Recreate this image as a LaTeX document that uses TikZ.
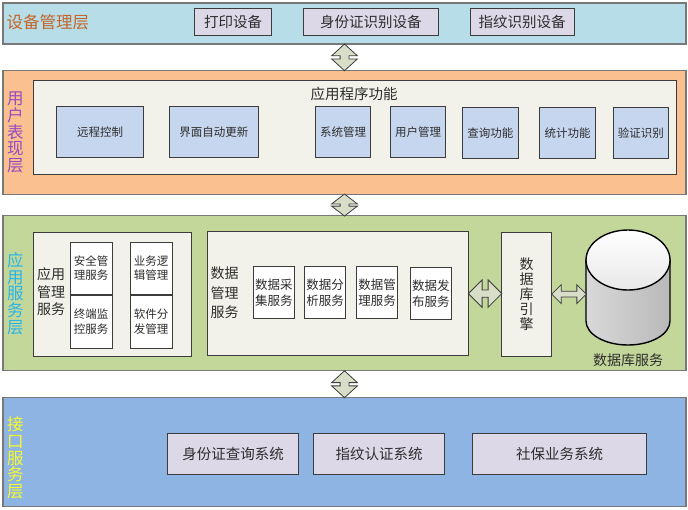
\documentclass[tikz,border=0pt]{standalone}
\usepackage{fontspec}
\setmainfont{Noto Sans CJK SC}
\usepackage{xcolor}
\usepackage{tikz}
\usetikzlibrary{shapes.geometric, shapes.arrows, positioning, calc}
\definecolor{devblue}{RGB}{183,222,232}
\definecolor{devlabel}{RGB}{196,100,40}
\definecolor{userpeach}{RGB}{250,192,144}
\definecolor{userlabel}{RGB}{150,75,195}
\definecolor{appgreen}{RGB}{196,215,155}
\definecolor{applabel}{RGB}{40,180,230}
\definecolor{ifblue}{RGB}{141,180,226}
\definecolor{iflabel}{RGB}{250,250,40}
\definecolor{panelgray}{RGB}{242,242,234}
\definecolor{funcblue}{RGB}{198,214,238}
\definecolor{lavender}{RGB}{221,216,232}
\definecolor{linkfill}{RGB}{216,222,200}
\definecolor{boxgray}{RGB}{60,60,60}
\definecolor{bandgray}{RGB}{120,120,120}
\definecolor{textgray}{RGB}{45,45,45}
\tikzstyle{layer} = [rectangle, minimum width=683pt, draw=bandgray, line width=1.3pt, inner sep=0pt]
\tikzstyle{layertitle} = [align=center, inner sep=0pt, font=\fontsize{16.5}{16.7}\selectfont]
\tikzstyle{device} = [rectangle, minimum height=27.4pt, draw=boxgray, line width=1pt, fill=lavender, text=textgray, inner sep=0pt, font=\fontsize{14.5}{16}\selectfont]
\tikzstyle{panel} = [rectangle, draw=boxgray, line width=1pt, fill=panelgray, text=textgray, inner sep=0pt]
\tikzstyle{func} = [rectangle, minimum width=55.5pt, minimum height=51.3pt, draw=boxgray, line width=1pt, fill=funcblue, text=textgray, inner sep=0pt, font=\fontsize{11.5}{13}\selectfont]
\tikzstyle{service} = [rectangle, minimum width=42pt, draw=boxgray, line width=1pt, fill=white, text=textgray, align=center, inner sep=0pt, font=\fontsize{11.5}{14.5}\selectfont]
\tikzstyle{groupname} = [align=center, text=textgray, inner sep=0pt, font=\fontsize{14}{17.5}\selectfont]
\tikzstyle{system} = [rectangle, minimum height=41pt, draw=boxgray, line width=1pt, fill=lavender, text=textgray, inner sep=0pt, font=\fontsize{14.5}{16}\selectfont]
\tikzstyle{vlink} = [double arrow, rotate=90, draw=boxgray, line width=0.8pt, fill=linkfill, minimum width=25pt, double arrow head extend=8.5pt, double arrow tip angle=95, inner xsep=0pt, inner ysep=4pt, outer sep=0pt]
\tikzstyle{hlink} = [double arrow, draw=boxgray, line width=0.8pt, fill=linkfill, double arrow tip angle=90, inner xsep=0pt, outer sep=0pt]
\tikzstyle{dbline} = [draw=black, line width=1.4pt]

\begin{document}
\begin{tikzpicture}[x=1pt, y=-1pt, node distance=10pt]
\useasboundingbox (0,0) rectangle (688,509);

% layers
\node (devband) [layer, fill=devblue, minimum height=41pt] at (344.5,23.5) {};
\node (userband) [layer, fill=userpeach, minimum height=123.5pt] at (344.5,132.5) {};
\node (appband) [layer, fill=appgreen, minimum height=155pt] at (344.5,293.3) {};
\node (ifband) [layer, fill=ifblue, minimum height=109pt] at (344.5,452.2) {};

\node (devtitle) [layertitle, text=devlabel, anchor=west] at (6.5,22) {设备管理层};
\node (usertitle) [layertitle, text=userlabel] at (15.3,132.5) {用\\户\\表\\现\\层};
\node (apptitle) [layertitle, text=applabel] at (15.3,293.5) {应\\用\\服\\务\\层};
\node (iftitle) [layertitle, text=iflabel] at (15.4,458) {接\\口\\服\\务\\层};

% device layer
\node (printer) [device, minimum width=77pt] at (233,22) {打印设备};
\node (idreader) [device, minimum width=135.6pt, right=30.5pt of printer] {身份证识别设备};
\node (fpreader) [device, minimum width=104pt, right=30.4pt of idreader] {指纹识别设备};

% user layer
\node (appfunc) [panel, minimum width=643.2pt, minimum height=93.6pt] at (355,127.5) {};
\node (functitle) [text=textgray, font=\fontsize{14.5}{16}\selectfont] at (354,94) {应用程序功能};
\node (remote) [func, minimum width=87.5pt] at (100,131.7) {远程控制};
\node (uiupdate) [func, minimum width=89.2pt, right=24.6pt of remote] {界面自动更新};
\node (sysmgr) [func, right=55.8pt of uiupdate] {系统管理};
\node (usermgr) [func, right=18.5pt of sysmgr] {用户管理};
\node (query) [func, right=15.7pt of usermgr, yshift=-1.3pt] {查询功能};
\node (stats) [func, right=20.7pt of query] {统计功能};
\node (verify) [func, right=16.8pt of stats] {验证识别};

% application service layer
\node (appmgr) [panel, minimum width=157.6pt, minimum height=124.4pt] at (112.2,294.5) {};
\node (appmgrtitle) [groupname] at (51,292) {应用\\管理\\服务};
\node (security) [service, minimum height=52pt] at (91,268) {安全管\\理服务};
\node (monitor) [service, minimum height=53pt, below=0pt of security] {终端监\\控服务};
\node (logic) [service, minimum height=52pt, right=17pt of security] {业务逻\\辑管理};
\node (deploy) [service, minimum height=53pt, below=0pt of logic] {软件分\\发管理};

\node (datasvc) [panel, minimum width=261.2pt, minimum height=124pt] at (337.9,293) {};
\node (datasvctitle) [groupname, font=\fontsize{14}{19.5}\selectfont] at (224.5,293) {数据\\管理\\服务};
\node (collect) [service, minimum width=41.5pt, minimum height=51.6pt, font=\fontsize{12.5}{16}\selectfont] at (273.8,292.5) {数据采\\集服务};
\node (analyze) [service, minimum width=41.5pt, minimum height=51.6pt, font=\fontsize{12.5}{16}\selectfont, right=8.7pt of collect] {数据分\\析服务};
\node (dmanage) [service, minimum width=41.5pt, minimum height=51.6pt, font=\fontsize{12.5}{16}\selectfont, right=9.5pt of analyze] {数据管\\理服务};
\node (publish) [service, minimum width=41.5pt, minimum height=51.6pt, font=\fontsize{12.5}{16}\selectfont, right=11.4pt of dmanage, yshift=-0.8pt] {数据发\\布服务};

\node (engine) [panel, minimum width=49.8pt, minimum height=123.7pt, align=center, font=\fontsize{14}{14.8}\selectfont] at (526.6,294.2) {数\\据\\库\\引\\擎};

% database cylinder
\draw [dbline, left color=gray!30, middle color=gray!10, right color=gray!55] (586,260) -- (586,321) arc [start angle=180, end angle=360, x radius=42pt, y radius=24pt] -- (670,260) -- cycle;
\draw [dbline, top color=white, bottom color=gray!18] (628,260) ellipse [x radius=42pt, y radius=30pt];
\coordinate (dbwest) at (586,294);
\node (dbname) [text=textgray, font=\fontsize{14}{16}\selectfont] at (628,360) {数据库服务};

% interface layer
\node (idquery) [system, minimum width=130.5pt] at (233,453.8) {身份证查询系统};
\node (fpauth) [system, minimum width=130.5pt, right=14.5pt of idquery] {指纹认证系统};
\node (social) [system, minimum width=174pt, right=27.3pt of fpauth] {社保业务系统};

% links
\node (link1) [vlink, minimum height=26.7pt] at ($(devband.south)!0.5!(userband.north)$) {};
\node (link2) [vlink, minimum height=22pt, double arrow tip angle=105] at ($(userband.south)!0.5!(appband.north)$) {};
\node (link3) [vlink, minimum height=26.9pt] at ($(appband.south)!0.5!(ifband.north)$) {};
\node (link4) [hlink, minimum height=33.4pt, minimum width=26.7pt, double arrow head extend=10pt, inner ysep=3.3pt] at ($(datasvc.east)!0.5!(engine.west)$) {};
\node (link5) [hlink, minimum height=34.5pt, minimum width=18pt, double arrow head extend=6.5pt, inner ysep=2.5pt] at ($(engine.east)!0.5!(dbwest)$) {};
\end{tikzpicture}
\end{document}
